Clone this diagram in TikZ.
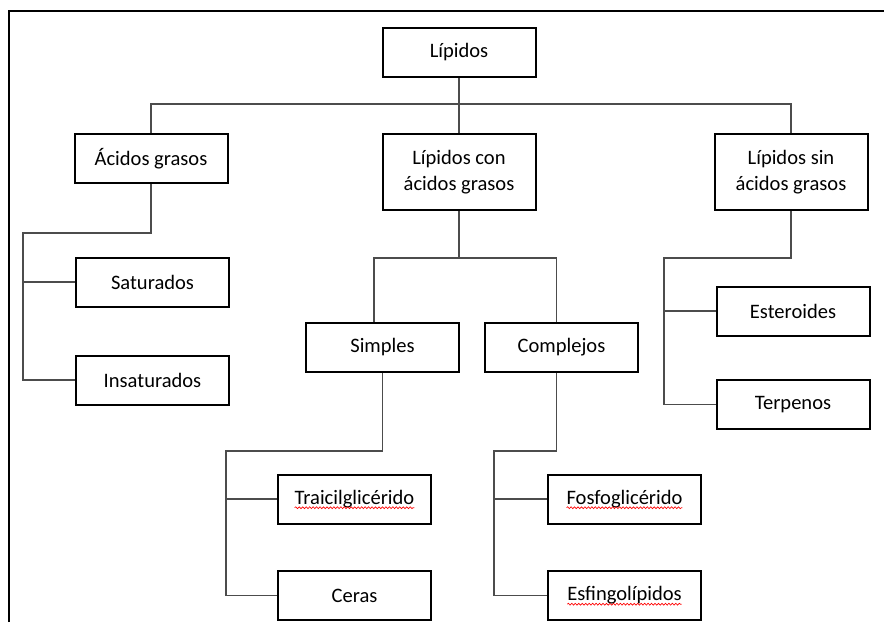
\documentclass[tikz,border=0pt]{standalone}
\usepackage{fontspec}
\setmainfont{Carlito}
\usetikzlibrary{decorations.pathmorphing}
\newcommand\boxfont{\fontsize{15.4}{20}\selectfont}
\newlength\triaw
\newlength\fosfow
\newlength\esfinw
\begin{document}
\settowidth\triaw{\boxfont Traicilglicérido}%
\settowidth\fosfow{\boxfont Fosfoglicérido}%
\settowidth\esfinw{\boxfont Esfingolípidos}%
\begin{tikzpicture}[
    x=0.75pt, y=-0.75pt,
    catbox/.style = {rectangle, draw, line width=1.5pt, minimum width=114.75pt, minimum height=36.75pt,
                     align=center, inner sep=2pt, font=\boxfont},
    tallbox/.style = {catbox, minimum height=57pt},
    link/.style = {draw=black!70, line width=0.8pt},
    spell/.style = {draw=red, line width=0.5pt, decorate,
                    decoration={snake, segment length=2.6pt, amplitude=0.7pt}}
  ]
  \useasboundingbox (0,0) rectangle (884,622);
  \draw[line width=1.5pt] (9,622) -- (9,11) -- (884,11);

  \node[catbox] (lip) at (459,52.5) {Lípidos};
  \node[catbox] (acid) at (151,158.5) {Ácidos grasos};
  \node[tallbox] (con) at (459,172) {Lípidos con\\ácidos grasos};
  \node[tallbox] (sin) at (791,172) {Lípidos sin\\ácidos grasos};
  \node[catbox] (sat) at (152.5,282) {Saturados};
  \node[catbox] (insat) at (152.5,380) {Insaturados};
  \node[catbox] (simp) at (382.5,347.5) {Simples};
  \node[catbox] (comp) at (561.5,347.5) {Complejos};
  \node[catbox] (ester) at (793,311) {Esteroides};
  \node[catbox] (terp) at (793,404.5) {Terpenos};
  \node[catbox] (tria) at (354.5,499) {Traicilglicérido};
  \node[catbox] (ceras) at (354.5,595.5) {Ceras};
  \node[catbox] (fosfo) at (624.5,499) {Fosfoglicérido};
  \node[catbox] (esfin) at (624.5,595.5) {Esfingolípidos};

  % spelling marks
  \draw[spell] ([xshift=-0.5\triaw, yshift=-2.5pt]tria.base) -- ([xshift=0.5\triaw, yshift=-2.5pt]tria.base);
  \draw[spell] ([xshift=-0.5\fosfow, yshift=-2.5pt]fosfo.base) -- ([xshift=0.5\fosfow, yshift=-2.5pt]fosfo.base);
  \draw[spell] ([xshift=-0.5\esfinw, yshift=-2.5pt]esfin.base) -- ([xshift=0.5\esfinw, yshift=-2.5pt]esfin.base);

  \coordinate (bus) at (459,104);
  \coordinate (acidbend) at (23,233);
  \coordinate (conbus) at (459,258);
  \coordinate (sinbend) at (664,258);
  \coordinate (simpbend) at (226,451);
  \coordinate (compbend) at (494,451);

  \draw[link] (lip) -- (con);
  \draw[link] (acid.north) |- (bus) -| (sin.north);
  \draw[link] (acid.south) |- (acidbend) |- (insat.west);
  \draw[link] (acidbend |- sat.west) -- (sat.west);
  \draw[link] (con.south) -- (conbus);
  \draw[link] ([xshift=-6.4pt]simp.north) |- (conbus) -| ([xshift=-4.1pt]comp.north);
  \draw[link] (sin.south) |- (sinbend) |- (terp.west);
  \draw[link] (sinbend |- ester.west) -- (ester.west);
  \draw[link] (simp.south) |- (simpbend) |- (ceras.west);
  \draw[link] (simpbend |- tria.west) -- (tria.west);
  \draw[link] ([xshift=-4.1pt]comp.south) |- (compbend) |- (esfin.west);
  \draw[link] (compbend |- fosfo.west) -- (fosfo.west);
\end{tikzpicture}
\end{document}
